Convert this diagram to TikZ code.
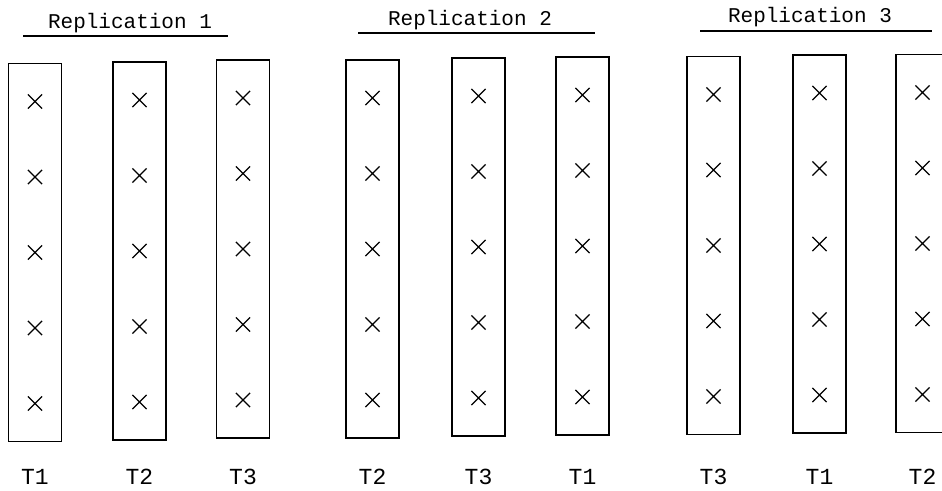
\documentclass[tikz,border=0pt]{standalone}
\usepackage{fontspec}
\setmonofont{Liberation Mono}
\usetikzlibrary{shapes.misc}
\tikzset{
    plot/.style={draw, line width=0.8pt, minimum width=26.5pt, minimum height=189pt, inner sep=0pt},
    plant/.style={draw, cross out, line width=0.6pt, minimum size=6.5pt, inner sep=0pt},
    trt/.style={font=\ttfamily\fontsize{11.5}{13}\selectfont},
    reptitle/.style={font=\ttfamily\fontsize{10.5}{12}\selectfont, anchor=base},
}

\begin{document}
\begin{tikzpicture}[x=0.5pt, y=-0.5pt]
    \useasboundingbox (0,0) rectangle (942,491);
    % replicate headings
    \node[reptitle] (rep1) at (130,29) {Replication 1};
    \node[reptitle] (rep2) at (470,26) {Replication 2};
    \node[reptitle] (rep3) at (810,23) {Replication 3};
    \draw[line width=0.6pt] (23,36) -- (228,36);
    \draw[line width=0.6pt] (358,33) -- (595,33);
    \draw[line width=0.6pt] (700,31) -- (932,31);
    % plots, three per replicate
    \node[plot] (p11) at (35,252.5) {};
    \node[plot] (p12) at (139.5,251) {};
    \node[plot] (p13) at (243,249) {};
    \node[plot] (p21) at (372.5,249) {};
    \node[plot] (p22) at (478.5,247) {};
    \node[plot] (p23) at (582.5,246) {};
    \node[plot] (p31) at (713.5,245.5) {};
    \node[plot] (p32) at (819.5,244) {};
    \node[plot] (p33) at (922.5,243.5) {};
    % five plants down each plot
    \foreach \p in {p11,p12,p13,p21,p22,p23,p31,p32,p33}
        \foreach \dy [count=\i] in {75.5,37.75,0,-37.75,-75.5}
            \node[plant] (\p-\i) at ([yshift=\dy pt]\p.center) {};
    % treatments
    \coordinate (lab) at (0,477);
    \node[trt] (t11) at (p11 |- lab) {T1};
    \node[trt] (t12) at (p12 |- lab) {T2};
    \node[trt] (t13) at (p13 |- lab) {T3};
    \node[trt] (t21) at (p21 |- lab) {T2};
    \node[trt] (t22) at (p22 |- lab) {T3};
    \node[trt] (t23) at (p23 |- lab) {T1};
    \node[trt] (t31) at (p31 |- lab) {T3};
    \node[trt] (t32) at (p32 |- lab) {T1};
    \node[trt] (t33) at (p33 |- lab) {T2};
\end{tikzpicture}
\end{document}
